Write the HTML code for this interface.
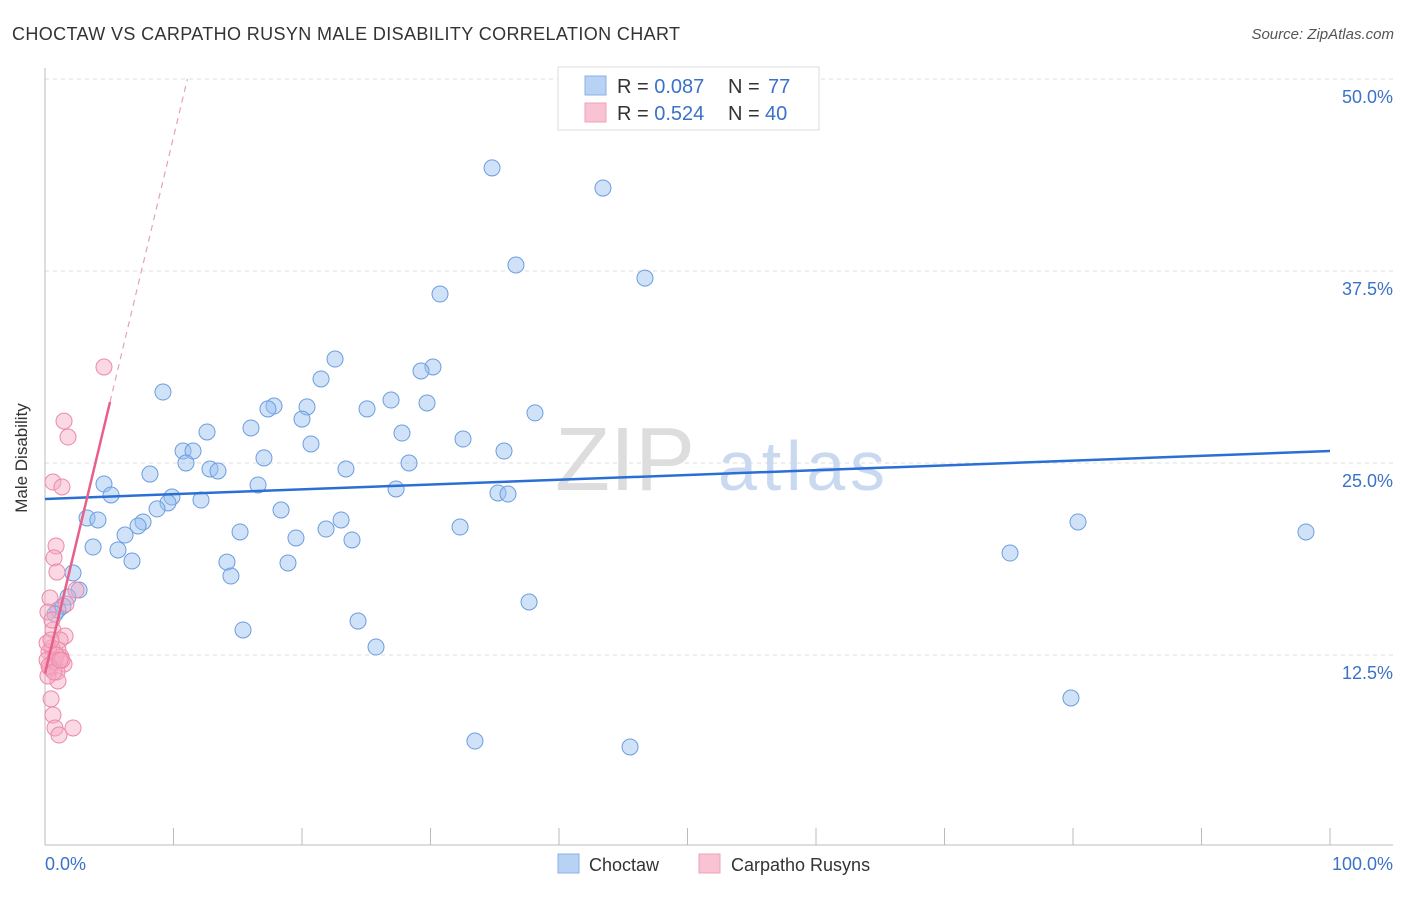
<!DOCTYPE html>
<html><head><meta charset="utf-8"><style>
body{margin:0;background:#fff;font-family:"Liberation Sans",sans-serif;}
svg text{font-family:"Liberation Sans",sans-serif;}
</style></head><body>
<svg width="1406" height="892" xmlns="http://www.w3.org/2000/svg">
<text x="12" y="40" font-size="18" fill="#333" textLength="668">CHOCTAW VS CARPATHO RUSYN MALE DISABILITY CORRELATION CHART</text>
<text x="1394" y="39" font-size="15" fill="#555" text-anchor="end" font-style="italic">Source: ZipAtlas.com</text>
<g id="grid"></g>
<text x="555" y="490" font-size="90" fill="#ddd" font-family="Liberation Serif">ZIP</text>
<text x="718" y="490" font-size="70" fill="#c9d9f0" textLength="167">atlas</text>
<line x1="45" y1="68" x2="45" y2="845" stroke="#bbb"/>
<line x1="45" y1="845" x2="1393" y2="845" stroke="#bbb"/>
<g id="ticks"></g>
<text x="24" y="455" font-size="17" fill="#333" transform="rotate(-90 27 455)" text-anchor="middle">Male Disability</text>
<text x="45" y="870" font-size="18" fill="#3a72c8">0.0%</text>
<text x="1393" y="870" font-size="18" fill="#3a72c8" text-anchor="end">100.0%</text>
<g id="pts"></g>
<g id="lines"></g>
<g>
<rect x="558" y="67" width="261" height="63" fill="#fff" stroke="#ddd"/>
<rect x="585" y="76" width="21" height="19" fill="#b7d2f4" stroke="#8ab0e4"/>
<rect x="585" y="103" width="21" height="19" fill="#f8c4d3" stroke="#f0a0b8"/>
<text x="617" y="93" font-size="20" fill="#333">R = <tspan fill="#3a72c8">0.087</tspan><tspan x="728">N = </tspan><tspan x="768" fill="#3a72c8">77</tspan></text>
<text x="617" y="120" font-size="20" fill="#333">R = <tspan fill="#3a72c8">0.524</tspan><tspan x="728">N = </tspan><tspan x="765" fill="#3a72c8">40</tspan></text>
</g>
<g>
<rect x="558" y="854" width="21" height="19" fill="#b7d2f4" stroke="#8ab0e4"/>
<text x="589" y="871" font-size="18" fill="#333">Choctaw</text>
<rect x="699" y="854" width="21" height="19" fill="#f8c4d3" stroke="#f0a0b8"/>
<text x="731" y="871" font-size="18" fill="#333">Carpatho Rusyns</text>
</g>
</svg>
<script>
const yTicks=[12.5,25,37.5,50];
const xTicks=[0,10,20,30,40,50,60,70,80,90,100];
const bluePx=[[492,168],[603,188],[516,265],[645,278],[440,294],[335,359],[433,367],[421,371],[321,379],[163,392],[391,400],[427,403],[274,406],[268,409],[307,407],[367,409],[535,413],[302,419],[207,432],[251,428],[402,433],[463,439],[311,444],[183,451],[193,451],[504,451],[264,458],[186,463],[409,463],[210,469],[218,471],[346,469],[150,474],[104,484],[258,485],[396,489],[111,495],[498,493],[508,494],[172,497],[201,500],[168,503],[157,509],[281,510],[87,518],[98,520],[341,520],[143,522],[138,526],[460,527],[326,529],[1078,522],[1306,532],[240,532],[125,535],[296,538],[352,540],[93,547],[118,550],[1010,553],[132,561],[227,562],[288,563],[73,573],[231,576],[79,590],[68,597],[63,606],[58,610],[55,614],[529,602],[358,621],[243,630],[376,647],[1071,698],[475,741],[630,747]];
const pinkPx=[[104,367],[64,421],[68,437],[53,482],[62,487],[56,546],[54,558],[57,572],[50,598],[76,590],[66,604],[48,612],[53,630],[65,636],[60,640],[52,648],[58,650],[49,652],[61,657],[55,660],[64,664],[50,668],[57,672],[53,662],[47,660],[58,681],[51,699],[53,715],[55,728],[73,728],[59,735],[48,676],[52,620],[56,655],[47,643],[62,660],[49,666],[54,672],[51,640],[60,660]];
const blueX=bluePx.map(p=>+((p[0]-45)/12.85).toFixed(2));
const blueY=bluePx.map(p=>+((847-p[1])/15.36).toFixed(2));
const pinkX=pinkPx.map(p=>+((p[0]-45)/12.85).toFixed(2));
const pinkY=pinkPx.map(p=>+((847-p[1])/15.36).toFixed(2));
const blueTrend=[22.66,25.78];
const pinkTrend=[11.3,28.97,5.06];
const X=v=>45+v*12.85, Y=v=>847-v*15.36;
const NS="http://www.w3.org/2000/svg";
function mk(t,a,p){const e=document.createElementNS(NS,t);for(const k in a)e.setAttribute(k,a[k]);document.getElementById(p).appendChild(e);return e;}
yTicks.forEach(t=>{
 const l=mk('line',{x1:45,x2:1393,y1:Y(t),y2:Y(t),stroke:'#ddd','stroke-dasharray':'4,4'},'grid');
 
 
 const tx=mk('text',{x:1393,y:Y(t)+24,'font-size':18,fill:'#3a72c8','text-anchor':'end'},'grid');
 tx.textContent=t.toFixed(1)+'%';
 
 
});
xTicks.forEach(t=>{
 const l=mk('line',{x1:X(t),x2:X(t),y1:828,y2:845,stroke:'#bbb'},'ticks');
 
 
});
blueX.forEach((x,i)=>{
 const c=mk('circle',{cx:X(x),cy:Y(blueY[i]),r:8,fill:'rgba(150,190,240,0.45)',stroke:'#6c9de0','stroke-width':1},'pts');
 
 
});
pinkX.forEach((x,i)=>{
 const c=mk('circle',{cx:X(x),cy:Y(pinkY[i]),r:8,fill:'rgba(245,170,195,0.45)',stroke:'#ee88a8','stroke-width':1},'pts');
 
 
});
const bl=mk('line',{x1:X(0),y1:Y(blueTrend[0]),x2:X(100),y2:Y(blueTrend[1]),stroke:'#2b6fd6','stroke-width':2.5},'lines');


const slope=(pinkTrend[1]-pinkTrend[0])/pinkTrend[2];
const pl=mk('line',{x1:X(0),y1:Y(pinkTrend[0]),x2:X(pinkTrend[2]),y2:Y(pinkTrend[1]),stroke:'#e8608a','stroke-width':2.5},'lines');


const xe=(50-pinkTrend[0])/slope;
const pd=mk('line',{x1:X(pinkTrend[2]),y1:Y(pinkTrend[1]),x2:X(xe),y2:Y(50),stroke:'#e8a0b8','stroke-width':1.2,'stroke-dasharray':'6,5'},'lines');


</script>
</body></html>
